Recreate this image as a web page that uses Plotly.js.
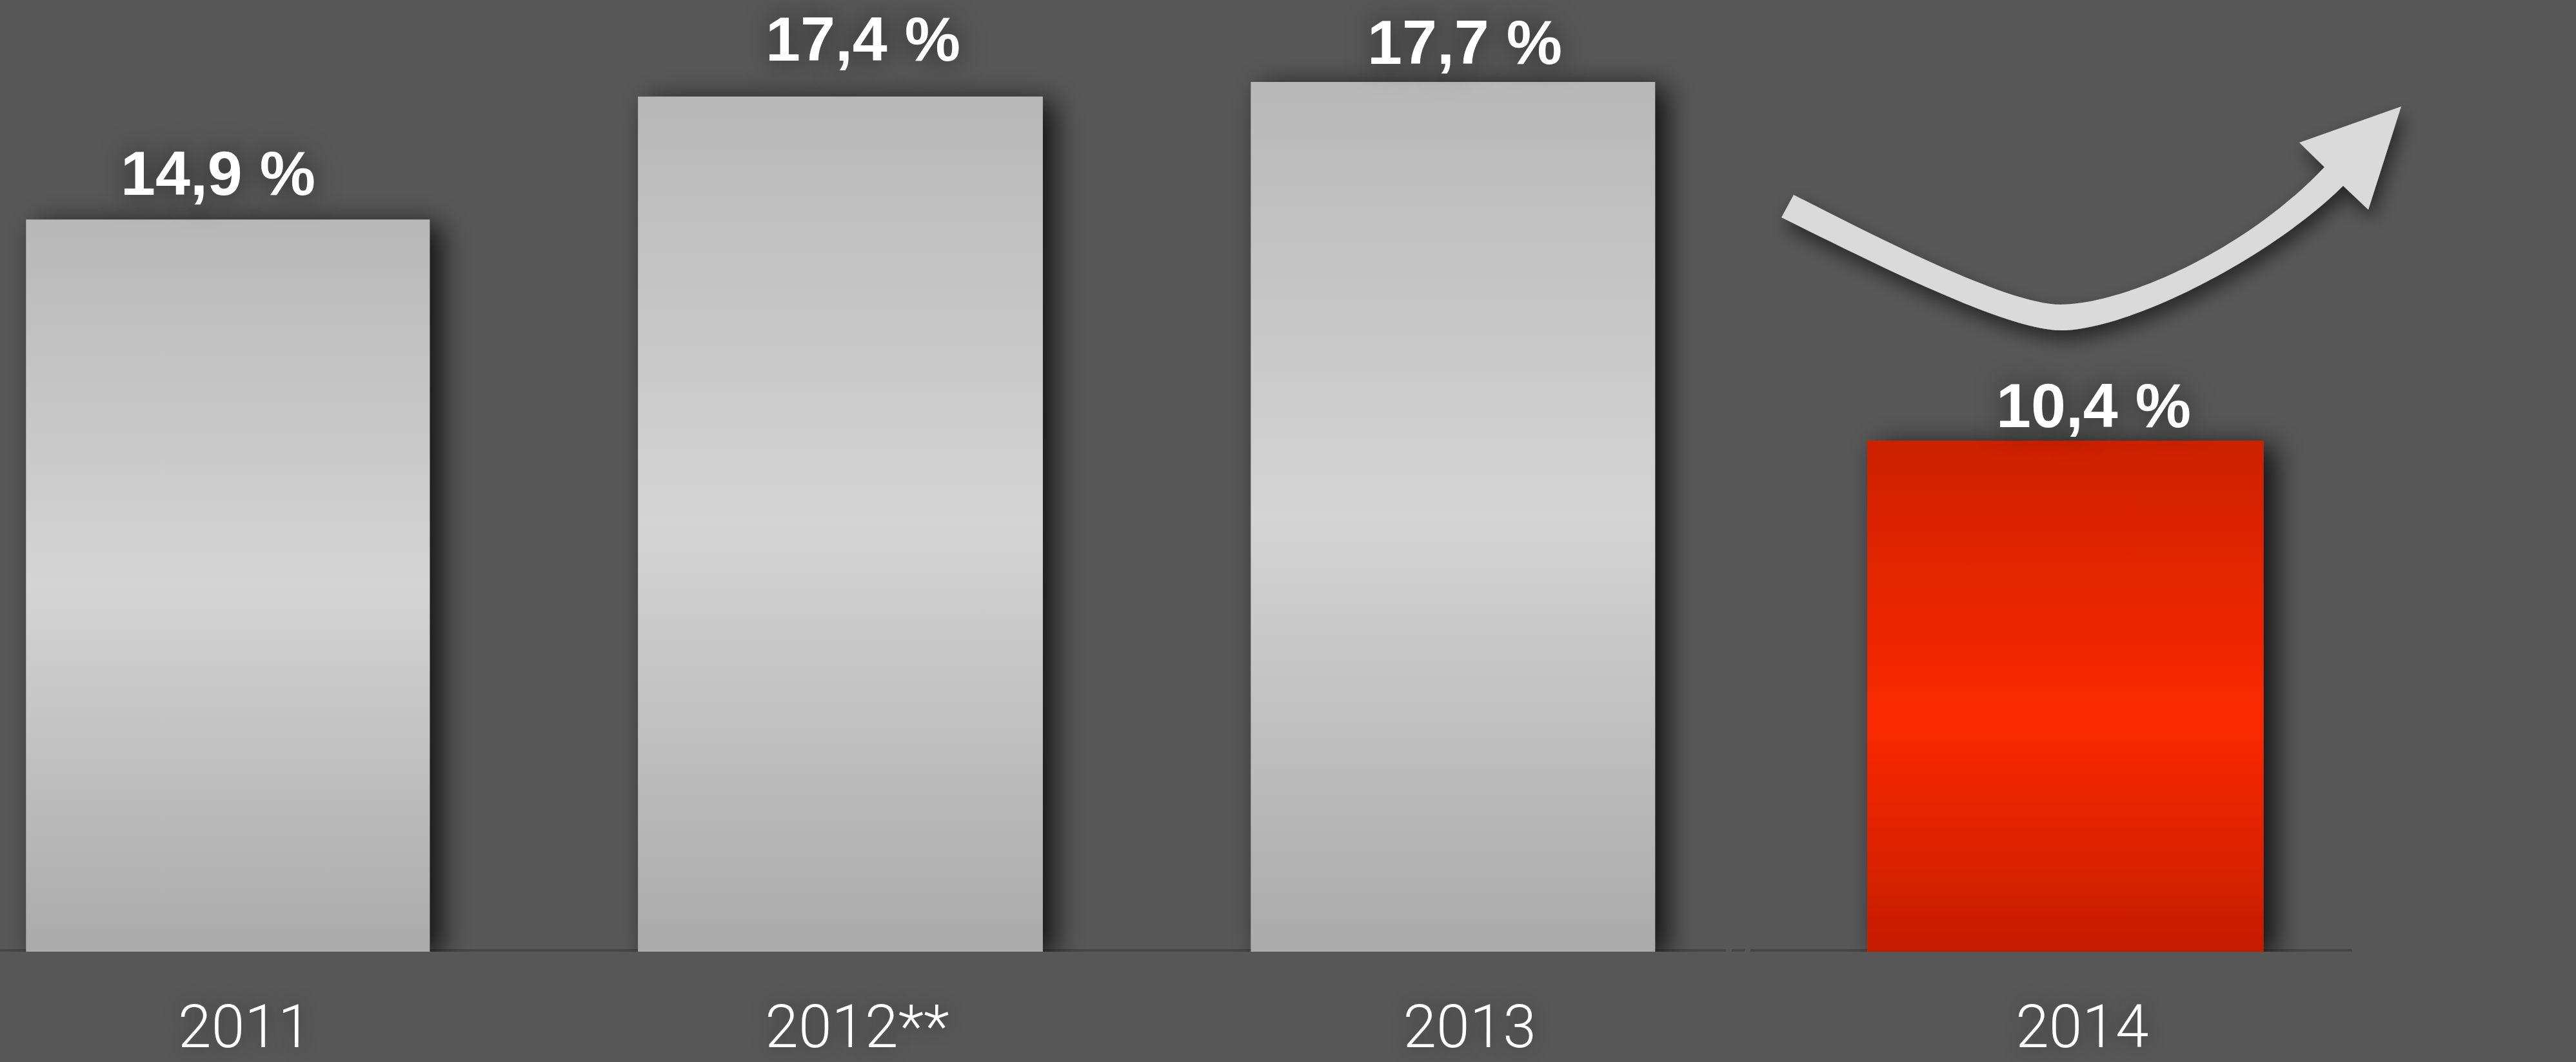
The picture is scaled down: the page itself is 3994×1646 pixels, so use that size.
<!DOCTYPE html>
<html>
<head>
<meta charset="utf-8">
<script src="https://cdn.plot.ly/plotly-3.0.1.min.js"></script>
<style>html,body{margin:0;padding:0;background:#575757;overflow:hidden}</style>
</head>
<body>
<div id="chart" style="width:3994px;height:1646px"></div>
<script>
// ---- data ----
const categories = ['2011', '2012**', '2013', '2014'];
const values = [14.9, 17.4, 17.7, 10.4];
const valueLabels = ['14,9 %', '17,4 %', '17,7 %', '10,4 %'];

// ---- style ----
const W = 3994, H = 1646, PLOT_H = 1475;
const barColors = ['#c6c6c6', '#c6c6c6', '#c6c6c6', '#e62600'];
const barWidths = [0.659, 0.661, 0.660, 0.647];
const labelDx = [-15, 35, 18, 44];      // px nudges of value labels
const labelGap = [37, 55, 27, 20];      // px gap between label baseline and bar top

const trace = {
  type: 'bar',
  x: categories,
  y: values,
  width: barWidths,
  marker: {color: barColors, line: {width: 0}},
  hoverinfo: 'skip'
};

// category axis: annotations addressed by category serial number
const annotations = categories.map((c, i) => ({
  x: i, y: values[i], xref: 'x', yref: 'y',
  text: valueLabels[i], showarrow: false,
  xanchor: 'center', yanchor: 'bottom',
  xshift: labelDx[i], yshift: labelGap[i] - 22,
  font: {family: 'Liberation Sans, Arial, sans-serif', size: 97, color: '#ffffff', weight: 700,
         shadow: '0px 0px 40px rgba(0,0,0,0.55)'}
}));

// curved arrow (decoration) in page pixels -> paper coords
const arrowPx = [
  ['M', 2762, 337], ['L', 2781, 302],
  ['C', 2900, 362, 3110, 472, 3195, 472],
  ['C', 3290, 472, 3480, 390, 3604, 259],
  ['L', 3565, 221], ['L', 3723, 165], ['L', 3672, 325], ['L', 3633, 288],
  ['C', 3520, 400, 3300, 512, 3195, 512],
  ['C', 3110, 512, 2900, 405, 2762, 337],
  ['Z']
];
function toPaperPath(cmds) {
  return cmds.map(c => {
    const out = [c[0]];
    for (let k = 1; k < c.length; k += 2) {
      out.push((c[k] / W).toFixed(5) + ',' + ((PLOT_H - c[k + 1]) / PLOT_H).toFixed(5));
    }
    return out.join(' ');
  }).join(' ');
}

const baseSegs = [[0, 2676], [2685, 2705], [2714, 3647]];
const shapes = baseSegs.map(s => ({
  type: 'line', xref: 'paper', yref: 'y',
  x0: s[0] / W, x1: s[1] / W, y0: 0, y1: 0,
  line: {color: '#464646', width: 8}, layer: 'below'
}));
shapes.push({
  type: 'path', xref: 'paper', yref: 'paper',
  path: toPaperPath(arrowPx),
  fillcolor: '#dadada', line: {width: 0}, layer: 'above'
});

const layout = {
  width: W, height: H,
  paper_bgcolor: '#575757', plot_bgcolor: 'rgba(0,0,0,0)',
  margin: {l: 0, r: 0, t: 0, b: H - PLOT_H, pad: 0},
  showlegend: false,
  hovermode: false,
  xaxis: {
    type: 'category', range: [-0.3720, 3.8335], fixedrange: true,
    showgrid: false, zeroline: false, showline: false, ticks: '',
    automargin: false, ticklabelstandoff: 54, ticklabelshift: 26,
    tickfont: {family: 'Roboto, Liberation Sans, sans-serif', size: 93, color: '#ffffff', weight: 300,
               shadow: '0px 0px 30px rgba(0,0,0,0.35)'}
  },
  yaxis: {range: [0, PLOT_H / 76.16], visible: false, fixedrange: true, automargin: false},
  annotations: annotations,
  shapes: shapes
};

Plotly.newPlot('chart', [trace], layout, {displayModeBar: false, staticPlot: true}).then(gd => {
  const NS = 'http://www.w3.org/2000/svg';
  const svg = gd.querySelector('svg.main-svg');
  let defs = svg.querySelector('defs');
  if (!defs) { defs = document.createElementNS(NS, 'defs'); svg.insertBefore(defs, svg.firstChild); }
  function mk(tag, attrs, parent) {
    const e = document.createElementNS(NS, tag);
    for (const k in attrs) e.setAttribute(k, attrs[k]);
    parent.appendChild(e);
    return e;
  }
  function grad(id, stops) {
    const g = mk('linearGradient', {id: id, x1: 0, y1: 0, x2: 0, y2: 1}, defs);
    stops.forEach(s => mk('stop', {offset: s[0], 'stop-color': s[1]}, g));
  }
  grad('gGray', [[0, '#b8b8b8'], [0.5, '#d4d4d4'], [1, '#aaaaaa']]);
  grad('gRed', [[0, '#cc2100'], [0.55, '#fb2a00'], [1, '#c41d00']]);
  const f = mk('filter', {id: 'bShadow', x: '-30%', y: '-15%', width: '160%', height: '135%'}, defs);
  mk('feDropShadow', {dx: 18, dy: 8, stdDeviation: 22, 'flood-color': '#000', 'flood-opacity': 0.8}, f);
  const fa = mk('filter', {id: 'aShadow', x: '-20%', y: '-20%', width: '140%', height: '160%'}, defs);
  mk('feDropShadow', {dx: 6, dy: 14, stdDeviation: 14, 'flood-color': '#000', 'flood-opacity': 0.55}, fa);

  const bars = gd.querySelectorAll('.barlayer .trace .point path');
  bars.forEach((p, i) => {
    p.style.fill = (i === 3) ? 'url(#gRed)' : 'url(#gGray)';
    p.setAttribute('filter', 'url(#bShadow)');
  });
  const shapePaths = gd.querySelectorAll('.shapelayer path');
  shapePaths.forEach(p => {
    if (p.getAttribute('data-index') === String(shapes.length - 1)) p.setAttribute('filter', 'url(#aShadow)');
  });
});
</script>
</body>
</html>
